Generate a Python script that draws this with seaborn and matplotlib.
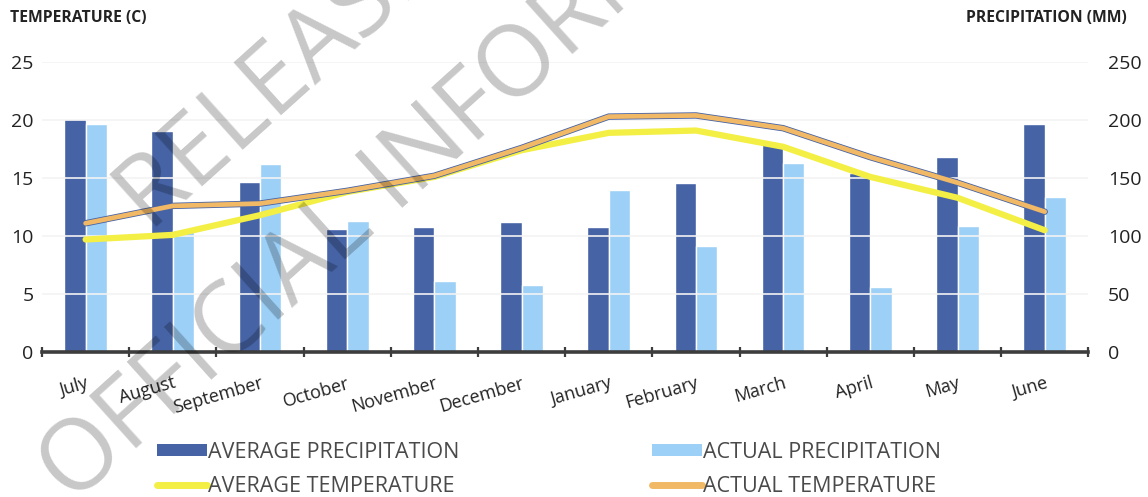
import matplotlib
matplotlib.use("Agg")
import matplotlib.pyplot as plt
import matplotlib.patheffects as pe
from matplotlib.patches import Patch
from matplotlib.lines import Line2D
from matplotlib.ticker import FixedLocator
import pandas as pd
import seaborn as sns

# ---- data -------------------------------------------------------------
months = ["July", "August", "September", "October", "November", "December",
          "January", "February", "March", "April", "May", "June"]
avg_precip = [201, 191, 147, 106, 108, 112, 108, 146, 179, 154, 168, 197]   # mm
act_precip = [197, 105, 162, 113, 61, 58, 140, 91, 163, 56, 109, 134]       # mm
avg_temp = [9.7, 10.1, 11.8, 13.8, 15.1, 17.4, 18.9, 19.1, 17.7, 15.1, 13.3, 10.5]  # C
act_temp = [11.1, 12.6, 12.8, 13.9, 15.2, 17.6, 20.3, 20.4, 19.3, 16.8, 14.6, 12.1]  # C
temp_ticks = [0, 5, 10, 15, 20, 25]
precip_ticks = [0, 50, 100, 150, 200, 250]

series_names = ["AVERAGE PRECIPITATION", "ACTUAL PRECIPITATION",
                "AVERAGE TEMPERATURE", "ACTUAL TEMPERATURE"]

DARK_BLUE = "#4663a6"
LIGHT_BLUE = "#9dd0f7"
YELLOW = "#f3ef45"
ORANGE = "#f1b866"
TEXT = "#222222"

precip_df = pd.DataFrame({
    "month": months * 2,
    "mm": avg_precip + act_precip,
    "series": [series_names[0]] * len(months) + [series_names[1]] * len(months),
})
temp_df = pd.DataFrame({
    "month": months * 2,
    "temp": avg_temp + act_temp,
    "series": [series_names[2]] * len(months) + [series_names[3]] * len(months),
})

sns.set_theme(style="white")
plt.rcParams["font.family"] = ["Open Sans", "DejaVu Sans"]

fig = plt.figure(figsize=(11.48, 4.97), dpi=100)
ax_p = fig.add_axes([0.0366, 0.2918, 0.9114, 0.5832])

# precipitation bars (right-hand scale)
sns.barplot(data=precip_df, x="month", y="mm", hue="series",
            hue_order=series_names[:2], palette=[DARK_BLUE, LIGHT_BLUE],
            order=months, width=0.49, gap=0, saturation=1, errorbar=None,
            legend=False, ax=ax_p)
ax_p.set_ylim(0, 250)
ax_p.set_xlim(-0.5, len(months) - 0.5)

# temperature lines (left-hand scale)
ax_t = ax_p.twinx()
sns.lineplot(data=temp_df[temp_df.series == series_names[2]], x="month", y="temp",
             sort=False, color=YELLOW, lw=4.5, ax=ax_t,
             solid_joinstyle="round", solid_capstyle="round")
sns.lineplot(data=temp_df[temp_df.series == series_names[3]], x="month", y="temp",
             sort=False, color=ORANGE, lw=3.4, ax=ax_t,
             solid_joinstyle="round", solid_capstyle="round",
             path_effects=[pe.Stroke(linewidth=4.6, foreground=DARK_BLUE),
                           pe.Normal()])
ax_t.set_ylim(0, 25)
ax_t.set_xlim(-0.5, len(months) - 0.5)

# faint horizontal gridlines
for v in temp_ticks[1:]:
    ax_t.axhline(v, color="#f3f3f3", lw=1.2, zorder=0)

for a in (ax_p, ax_t):
    a.set_xlabel("")
    a.set_ylabel("")
    for s in a.spines.values():
        s.set_visible(False)
ax_t.patch.set_visible(False)

ax_p.spines["bottom"].set_visible(True)
ax_p.spines["bottom"].set_color("#3d3d3d")
ax_p.spines["bottom"].set_linewidth(2.6)

# y ticks: temperature on left, precipitation on right
ax_t.yaxis.tick_left()
ax_t.set_yticks(temp_ticks)
ax_t.tick_params(axis="y", length=0, pad=6, labelsize=14, labelcolor=TEXT)
ax_p.yaxis.tick_right()
ax_p.set_yticks(precip_ticks)
ax_p.tick_params(axis="y", length=0, pad=14, labelsize=14, labelcolor=TEXT)
ax_t.tick_params(axis="x", bottom=False, labelbottom=False)

# month labels and boundary tick marks
ax_p.set_xticks(range(len(months)))
ax_p.set_xticklabels(months, rotation=16, ha="right", rotation_mode="anchor",
                     fontsize=13, color=TEXT)
ax_p.tick_params(axis="x", which="major", length=0, pad=16)
ax_p.xaxis.set_minor_locator(FixedLocator([i - 0.5 for i in range(len(months) + 1)]))
ax_p.tick_params(axis="x", which="minor", length=7, width=1.6,
                 direction="inout", color="#3d3d3d", bottom=True)
for lbl in ax_p.get_xticklabels():
    lbl.set_x(lbl.get_position()[0] + 0.12)

# axis titles
fig.text(10 / 1148, 1 - 18 / 497, "TEMPERATURE (C)", fontsize=11.3,
         fontweight="bold", color=TEXT, va="center", ha="left")
fig.text(1127 / 1148, 1 - 18 / 497, "PRECIPITATION (MM)", fontsize=11.3,
         fontweight="bold", color=TEXT, va="center", ha="right")

# legend below the plot: one column for averages, one for actuals
legend_style = dict(loc="upper left", frameon=False, fontsize=15.5,
                    labelcolor="#4a4a4a", handlelength=2.3, handleheight=0.5,
                    handletextpad=0.05, labelspacing=0.6, borderaxespad=0,
                    borderpad=0)
fig.legend([Patch(facecolor=DARK_BLUE, edgecolor="none"),
            Line2D([0], [0], color=YELLOW, lw=5)],
           [series_names[0], series_names[2]],
           bbox_to_anchor=(157 / 1148, 1 - 442 / 497), **legend_style)
fig.legend([Patch(facecolor=LIGHT_BLUE, edgecolor="none"),
            Line2D([0], [0], color=ORANGE, lw=5)],
           [series_names[1], series_names[3]],
           bbox_to_anchor=(652 / 1148, 1 - 442 / 497), **legend_style)

# diagonal watermark
wm = dict(fontsize=71, color="black", alpha=0.22, rotation=42,
          rotation_mode="anchor", ha="left", va="baseline", zorder=20)
fig.text(150 / 1148, 1 - 233 / 497, "RELEASED UNDER THE", **wm)
fig.text(72 / 1148, 1 - 505 / 497, "OFFICIAL INFORMATION ACT", **wm)

fig.savefig("out.png", dpi=100, facecolor="white")
